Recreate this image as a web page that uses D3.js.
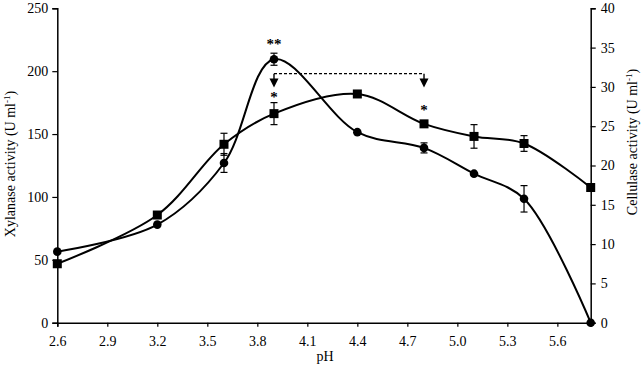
<!DOCTYPE html>
<html>
<head>
<meta charset="utf-8">
<script src="https://cdn.jsdelivr.net/npm/d3@7"></script>
<style>
  body { margin: 0; background: #fff; }
  text { font-family: "Liberation Serif", "Times New Roman", serif; }
</style>
</head>
<body>
<svg class="svg-ph" width="643" height="373"></svg>
<script>
// data
const pH = [2.6, 3.2, 3.6, 3.9, 4.4, 4.8, 5.1, 5.4, 5.8]
const xylanase = [56.5, 78, 127, 209.5, 151.5, 139, 118.5, 98.5, 0]
const xylanaseErr = [0, 0, 7.5, 4.8, 0, 4, 0, 10.5, 0]
const cellulase = [7.5, 13.7, 22.7, 26.6, 29.1, 25.3, 23.7, 22.8, 17.2]
const cellulaseErr = [0, 0, 1.4, 1.4, 0, 0, 1.5, 1.0, 0]
const xTicks = [2.6, 2.9, 3.2, 3.5, 3.8, 4.1, 4.4, 4.7, 5.0, 5.3, 5.6]
const leftTicks = [0, 50, 100, 150, 200, 250]
const rightTicks = [0, 5, 10, 15, 20, 25, 30, 35, 40]

var svg = d3.select('.svg-ph')
// plot box (note: "top" is a reserved window prop, so use plot* names)
var plotLeft = 57.3, plotRight = 590.7, plotTop = 8.3, plotBottom = 322.7

var x_scale = d3.scaleLinear().domain([2.6, 5.8]).range([plotLeft, plotRight])
var y_left = d3.scaleLinear().domain([0, 250]).range([plotBottom, plotTop])
var y_right = d3.scaleLinear().domain([0, 40]).range([plotBottom, plotTop])

//Axes
var x_axis = d3.axisBottom(x_scale).tickValues(xTicks).tickFormat(d3.format('.1f')).tickSizeOuter(0).tickSize(4)
var yl_axis = d3.axisLeft(y_left).tickValues(leftTicks).tickSizeOuter(0).tickSize(5)
var yr_axis = d3.axisRight(y_right).tickValues(rightTicks).tickSizeOuter(0).tickSize(5)

function styleAxis(g) {
    g.select('.domain').attr('stroke', '#000').attr('stroke-width', 1.5)
    g.selectAll('.tick line').attr('stroke', '#000').attr('stroke-width', 1.2)
    g.selectAll('.tick text').attr('fill', '#000').style('font-size', '14px')
        .style('font-family', '"Liberation Serif", serif')
}

svg.append('g').attr('transform', 'translate(0,' + plotBottom + ')').call(x_axis).call(styleAxis)
    .selectAll('.tick text').attr('dy', '1.2em')
svg.append('g').attr('transform', 'translate(' + plotLeft + ',0)').call(yl_axis).call(styleAxis)
    .selectAll('.tick text').attr('x', -9)
svg.append('g').attr('transform', 'translate(' + plotRight + ',0)').call(yr_axis).call(styleAxis)
    .selectAll('.tick text').attr('x', 10)

//Axis labels
svg.append('text')
    .attr('transform', 'translate(' + ((plotLeft + plotRight) / 2 + 1) + ',361)')
    .style('text-anchor', 'middle').style('font-size', '14px')
    .text('pH')

var lt = svg.append('text')
    .attr('transform', 'translate(15,164) rotate(-90)')
    .style('text-anchor', 'middle').style('font-size', '14px')
lt.append('tspan').text('Xylanase activity (U ml')
lt.append('tspan').attr('dy', -5).style('font-size', '9px').text('-1')
lt.append('tspan').attr('dy', 5).text(')')

var rt = svg.append('text')
    .attr('transform', 'translate(637,142) rotate(-90)')
    .style('text-anchor', 'middle').style('font-size', '14px')
rt.append('tspan').text('Cellulase activity (U ml')
rt.append('tspan').attr('dy', -5).style('font-size', '9px').text('-1')
rt.append('tspan').attr('dy', 5).text(')')

//Lines
var xylData = pH.map((p, i) => ({ p: p, v: xylanase[i], e: xylanaseErr[i] }))
var celData = pH.map((p, i) => ({ p: p, v: cellulase[i], e: cellulaseErr[i] }))

var line1 = d3.line().curve(d3.curveCatmullRom.alpha(0.5))
    .x(d => x_scale(d.p)).y(d => y_left(d.v))
var line2 = d3.line().curve(d3.curveCatmullRom.alpha(0.5))
    .x(d => x_scale(d.p)).y(d => y_right(d.v))

svg.append('path').attr('d', line2(celData))
    .attr('stroke', '#000').attr('stroke-width', 2).attr('fill', 'none')
svg.append('path').attr('d', line1(xylData))
    .attr('stroke', '#000').attr('stroke-width', 2).attr('fill', 'none')

//Error bars
function errBars(data, y) {
    var g = svg.append('g').attr('stroke', '#000').attr('stroke-width', 1.2)
    data.filter(d => d.e > 0).forEach(d => {
        var cx = x_scale(d.p)
        g.append('line').attr('x1', cx).attr('x2', cx).attr('y1', y(d.v - d.e)).attr('y2', y(d.v + d.e))
        g.append('line').attr('x1', cx - 3.5).attr('x2', cx + 3.5).attr('y1', y(d.v - d.e)).attr('y2', y(d.v - d.e))
        g.append('line').attr('x1', cx - 3.5).attr('x2', cx + 3.5).attr('y1', y(d.v + d.e)).attr('y2', y(d.v + d.e))
    })
}
errBars(celData, y_right)
errBars(xylData, y_left)

//Markers
svg.selectAll('.sq').data(celData).enter().append('rect')
    .attr('x', d => x_scale(d.p) - 4.5).attr('y', d => y_right(d.v) - 4.5)
    .attr('width', 9).attr('height', 9).attr('fill', '#000')
svg.selectAll('.ci').data(xylData).enter().append('circle')
    .attr('cx', d => x_scale(d.p)).attr('cy', d => y_left(d.v))
    .attr('r', 4.3).attr('fill', '#000')

//Significance annotations (left axis units)
var dashY = y_left(198), tipY = y_left(187)
svg.append('path')
    .attr('d', 'M' + x_scale(3.9) + ',' + dashY + 'H' + x_scale(4.8))
    .attr('stroke', '#000').attr('stroke-width', 1.2).attr('stroke-dasharray', '3,2').attr('fill', 'none')
;[3.9, 4.8].forEach(p => {
    var cx = x_scale(p)
    svg.append('path')
        .attr('d', 'M' + cx + ',' + dashY + 'V' + (tipY - 8))
        .attr('stroke', '#000').attr('stroke-width', 1.4)
    svg.append('path')
        .attr('d', 'M' + (cx - 4.5) + ',' + (tipY - 9) + 'L' + (cx + 4.5) + ',' + (tipY - 9) + 'L' + cx + ',' + tipY + 'Z')
        .attr('fill', '#000')
})
svg.append('text').attr('x', x_scale(3.9)).attr('y', y_left(225) + 9)
    .style('text-anchor', 'middle').style('font-size', '15px').style('font-weight', 'bold').text('**')
svg.append('text').attr('x', x_scale(3.9)).attr('y', y_left(183) + 9)
    .style('text-anchor', 'middle').style('font-size', '15px').style('font-weight', 'bold').text('*')
svg.append('text').attr('x', x_scale(4.8)).attr('y', y_left(172.5) + 9)
    .style('text-anchor', 'middle').style('font-size', '15px').style('font-weight', 'bold').text('*')
</script>
</body>
</html>
